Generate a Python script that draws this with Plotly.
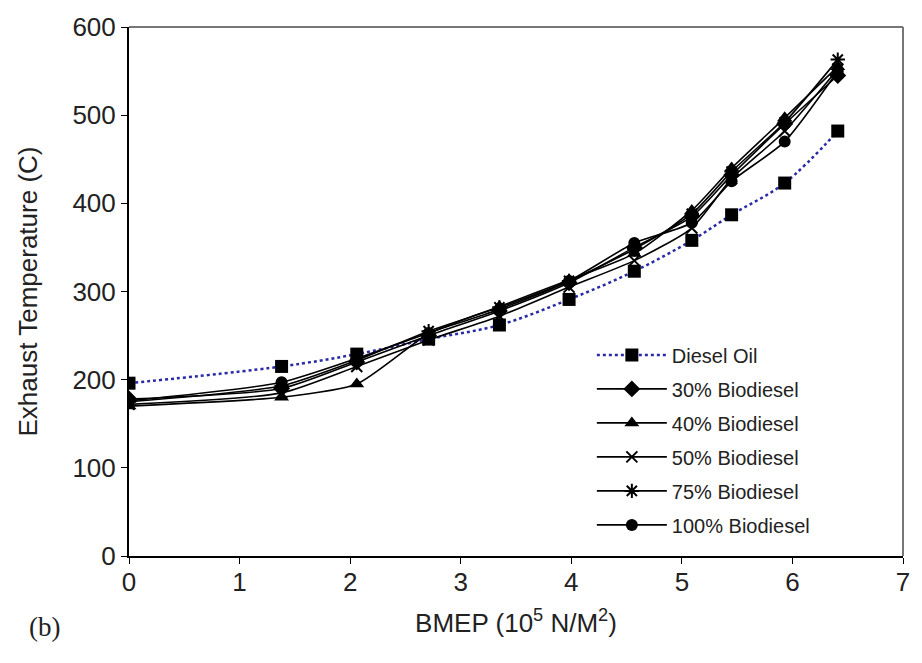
import plotly.graph_objects as go

# BMEP load points (10^5 N/m^2)
bmep = [0, 1.38, 2.06, 2.71, 3.35, 3.98, 4.57, 5.09, 5.45, 5.93, 6.41]

# Exhaust temperature (C) for each fuel
diesel_oil = [196, 215, 229, 246, 262, 291, 323, 358, 387, 423, 482]
bio_30 = [178, 190, 220, 250, 278, 310, 350, 385, 432, 490, 545]
bio_40 = [170, 180, 195, 252, 283, 313, 343, 392, 440, 497, 555]
bio_50 = [172, 185, 215, 245, 272, 305, 335, 372, 428, 482, 552]
bio_75 = [175, 193, 222, 255, 282, 312, 348, 388, 436, 492, 563]
bio_100 = [176, 197, 224, 253, 280, 312, 355, 378, 425, 470, 550]

x_ticks = [0, 1, 2, 3, 4, 5, 6, 7]
y_ticks = [0, 100, 200, 300, 400, 500, 600]

FONT = "Liberation Sans, Arial, sans-serif"
TEXT = "#222222"

fig = go.Figure()

fig.add_trace(go.Scatter(
    x=bmep, y=diesel_oil, name="Diesel Oil", mode="lines+markers",
    legendgroup="diesel",
    line=dict(color="#2a2aa8", width=2.5, dash="dot", shape="spline"),
    marker=dict(symbol="square", size=13, color="black"),
))

biodiesel = [
    ("30% Biodiesel", bio_30, dict(symbol="diamond", size=13, color="black")),
    ("40% Biodiesel", bio_40, dict(symbol="triangle-up", size=13, color="black")),
    ("50% Biodiesel", bio_50, dict(symbol="x-thin-open", size=11, color="black",
                                   line=dict(width=2, color="black"))),
    ("75% Biodiesel", bio_75, dict(symbol="asterisk-open", size=12, color="black",
                                   line=dict(width=2, color="black"))),
    ("100% Biodiesel", bio_100, dict(symbol="circle", size=12, color="black")),
]
for name, vals, mk in biodiesel:
    fig.add_trace(go.Scatter(
        x=bmep, y=vals, name=name, mode="lines+markers", legendgroup=name,
        line=dict(color="black", width=1.6, shape="spline", smoothing=0.6),
        marker=mk,
    ))

# gray frame on top and right of the plotting area
fig.add_shape(type="line", xref="paper", yref="paper", x0=0, x1=1, y0=1, y1=1,
              line=dict(color="#777777", width=2))
fig.add_shape(type="line", xref="paper", yref="paper", x0=1, x1=1, y0=0, y1=1,
              line=dict(color="#777777", width=2))

fig.add_annotation(text="(b)", xref="paper", yref="paper", x=-0.132, y=-0.135,
                   xanchor="left", yanchor="middle", showarrow=False,
                   font=dict(family="Liberation Serif, Times New Roman, serif",
                             size=27, color=TEXT))

fig.update_layout(
    width=922, height=663,
    margin=dict(l=129, r=14, t=25, b=107),
    paper_bgcolor="white", plot_bgcolor="white",
    font=dict(family=FONT, color=TEXT),
    showlegend=True,
    legend=dict(x=0.598, y=0.417, xanchor="left", yanchor="top",
                bgcolor="rgba(0,0,0,0)", font=dict(size=20, family=FONT, color=TEXT),
                tracegroupgap=5, itemwidth=70),
    xaxis=dict(
        range=[0, 7], tickvals=x_ticks, ticks="outside", ticklen=6,
        tickcolor="black", showline=True, linecolor="black", linewidth=2,
        showgrid=False, zeroline=False, ticklabelstandoff=-4,
        tickfont=dict(size=26, family=FONT, color=TEXT),
        title=dict(text="BMEP (10<sup>5</sup> N/M<sup>2</sup>)",
                   font=dict(size=26, family=FONT, color=TEXT), standoff=18),
    ),
    yaxis=dict(
        range=[0, 600], tickvals=y_ticks, ticks="outside", ticklen=6,
        tickcolor="black", showline=True, linecolor="black", linewidth=2,
        showgrid=False, zeroline=False,
        tickfont=dict(size=26, family=FONT, color=TEXT),
        title=dict(text="Exhaust Temperature (C)",
                   font=dict(size=26, family=FONT, color=TEXT), standoff=27),
    ),
)

fig.write_html("out.html")
